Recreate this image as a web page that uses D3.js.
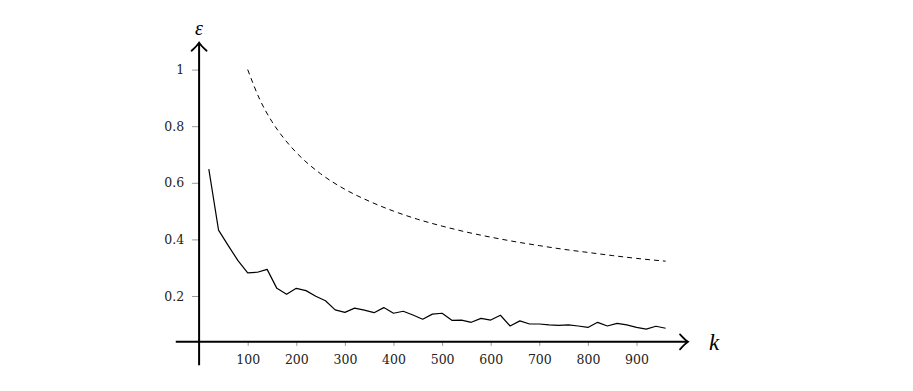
<!DOCTYPE html>
<html>
<head>
<meta charset="utf-8">
<script src="https://cdn.jsdelivr.net/npm/d3@7"></script>
<style>
  body { margin: 0; background: #fff; }
  svg { display: block; }
  .tick text { font-family: "DejaVu Serif", "Liberation Serif", serif; }
  .lab { font-family: "Liberation Serif", "DejaVu Serif", serif; font-style: italic; }
</style>
</head>
<body>
<script>
// measured error, k = 20, 40, ..., 960
var kSolid = d3.range(20, 961, 20);
var epsSolid = [0.648, 0.433, 0.378, 0.325, 0.282, 0.284, 0.294, 0.227, 0.206, 0.227,
                0.219, 0.199, 0.183, 0.151, 0.142, 0.157, 0.150, 0.141, 0.159, 0.139,
                0.146, 0.133, 0.118, 0.136, 0.139, 0.114, 0.115, 0.107, 0.121, 0.115,
                0.132, 0.094, 0.112, 0.101, 0.101, 0.098, 0.096, 0.098, 0.094, 0.089,
                0.107, 0.094, 0.103, 0.098, 0.089, 0.083, 0.093, 0.086];

// bound (dashed)
var kDashed = [100, 125, 150, 175, 200, 250, 300, 350, 400, 450, 500, 550, 600, 650, 700, 750, 800, 850, 900, 960];
var epsDashed = [1.0, 0.894, 0.816, 0.756, 0.707, 0.632, 0.577, 0.535, 0.5, 0.471, 0.447, 0.426, 0.408, 0.392, 0.378, 0.365, 0.354, 0.343, 0.333, 0.323];

var xTicks = [100, 200, 300, 400, 500, 600, 700, 800, 900];
var yTicks = [0.2, 0.4, 0.6, 0.8, 1];

var width = 913, height = 391;
var svg = d3.select("body").append("svg")
    .attr("width", width)
    .attr("height", height);

var x = d3.scaleLinear().domain([0, 1000]).range([199.1, 685.1]);
var y = d3.scaleLinear().domain([0, 1]).range([352.6, 69.6]);

var xCross = 0, yCross = 0.038;
var xExtent = [-48, 1006], yExtent = [-0.045, 1.095];

// x axis ticks + labels
var gx = svg.append("g")
    .attr("transform", "translate(0," + y(yCross) + ")")
    .call(d3.axisBottom(x).tickValues(xTicks).tickSize(4).tickPadding(9).tickFormat(d3.format("d")));
gx.select(".domain").remove();
gx.selectAll(".tick line").attr("stroke", "#999");
gx.selectAll("text").attr("font-family", null).attr("font-size", 12.5).attr("fill", "#222");

// y axis ticks + labels
var gy = svg.append("g")
    .attr("transform", "translate(" + x(xCross) + ",0)")
    .call(d3.axisLeft(y).tickValues(yTicks).tickSize(7).tickPadding(8).tickFormat(function(d) { return d == 1 ? "1" : d3.format(".1f")(d); }));
gy.select(".domain").remove();
gy.selectAll(".tick line").attr("stroke", "#999");
gy.selectAll("text").attr("font-family", null).attr("font-size", 12.5).attr("fill", "#222");
gx.attr("font-family", null);
gy.attr("font-family", null);

// axis lines
svg.append("line")
    .attr("x1", x(xExtent[0])).attr("x2", x(xExtent[1]))
    .attr("y1", y(yCross)).attr("y2", y(yCross))
    .attr("stroke", "#000").attr("stroke-width", 2);
svg.append("line")
    .attr("x1", x(xCross)).attr("x2", x(xCross))
    .attr("y1", y(yExtent[0])).attr("y2", y(yExtent[1]))
    .attr("stroke", "#000").attr("stroke-width", 2);

// arrow heads
var tx = x(xExtent[1]), ty = y(yCross);
svg.append("path")
    .attr("d", "M" + (tx - 8) + "," + (ty - 7.5) + " Q" + (tx - 3) + "," + (ty - 2) + " " + tx + "," + ty +
               " Q" + (tx - 3) + "," + (ty + 2) + " " + (tx - 8) + "," + (ty + 7.5))
    .attr("fill", "none").attr("stroke", "#000").attr("stroke-width", 1.8).attr("stroke-linecap", "round");
var ax = x(xCross), ay = y(yExtent[1]);
svg.append("path")
    .attr("d", "M" + (ax - 7.5) + "," + (ay + 8) + " Q" + (ax - 2) + "," + (ay + 3) + " " + ax + "," + ay +
               " Q" + (ax + 2) + "," + (ay + 3) + " " + (ax + 7.5) + "," + (ay + 8))
    .attr("fill", "none").attr("stroke", "#000").attr("stroke-width", 1.8).attr("stroke-linecap", "round");

// axis labels
svg.append("text")
    .attr("class", "lab")
    .attr("x", 714).attr("y", 350)
    .attr("text-anchor", "middle")
    .attr("font-size", 23)
    .text("k");
svg.append("text")
    .attr("class", "lab")
    .attr("x", 199).attr("y", 35)
    .attr("text-anchor", "middle")
    .attr("font-size", 20)
    .text("ε");

// lines
var line = d3.line()
    .x(function(d) { return x(d[0]); })
    .y(function(d) { return y(d[1]); });

svg.append("path")
    .datum(kDashed.map(function(k, i) { return [k, epsDashed[i]]; }))
    .attr("d", line.curve(d3.curveMonotoneX))
    .attr("fill", "none")
    .attr("stroke", "#000")
    .attr("stroke-width", 1)
    .attr("stroke-dasharray", "5,4");

svg.append("path")
    .datum(kSolid.map(function(k, i) { return [k, epsSolid[i]]; }))
    .attr("d", line.curve(d3.curveLinear))
    .attr("fill", "none")
    .attr("stroke", "#000")
    .attr("stroke-width", 1.2)
    .attr("stroke-linejoin", "round");
</script>
</body>
</html>
